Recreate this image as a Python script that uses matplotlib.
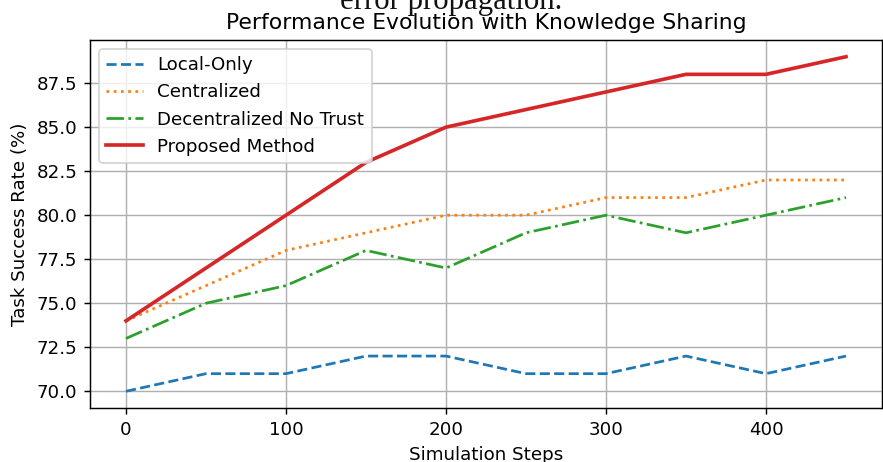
import matplotlib

matplotlib.use("Agg")
import matplotlib.pyplot as plt

# Values
steps = [0, 50, 100, 150, 200, 250, 300, 350, 400, 450]
local_only = [70, 71, 71, 72, 72, 71, 71, 72, 71, 72]
centralized = [74, 76, 78, 79, 80, 80, 81, 81, 82, 82]
decentralized_no_trust = [73, 75, 76, 78, 77, 79, 80, 79, 80, 81]
proposed = [74, 77, 80, 83, 85, 86, 87, 88, 88, 89]

DPI = 131
fig = plt.figure(figsize=(883 / DPI, 462 / DPI), dpi=DPI)
ax = fig.add_axes([90 / 883, 1 - 408 / 462, 792 / 883, 368 / 462])

ax.plot(steps, local_only, "--", color="#1f77b4", lw=1.5, label="Local-Only")
ax.plot(steps, centralized, ":", color="#ff7f0e", lw=1.5, label="Centralized")
ax.plot(steps, decentralized_no_trust, "-.", color="#2ca02c", lw=1.5,
        label="Decentralized No Trust")
ax.plot(steps, proposed, "-", color="#d62728", lw=2.0, label="Proposed Method")

ax.set_xlabel("Simulation Steps")
ax.set_ylabel("Task Success Rate (%)")
ax.set_title("Performance Evolution with Knowledge Sharing")
ax.grid(True)
ax.legend(loc="upper left")

# clipped caption text from the surrounding document
fig.text(451 / 883, 1 - 9 / 462, "error propagation.", ha="center", va="baseline",
         family="Liberation Serif", fontsize=17, color="#111111")

fig.savefig("out.png", dpi=DPI)
